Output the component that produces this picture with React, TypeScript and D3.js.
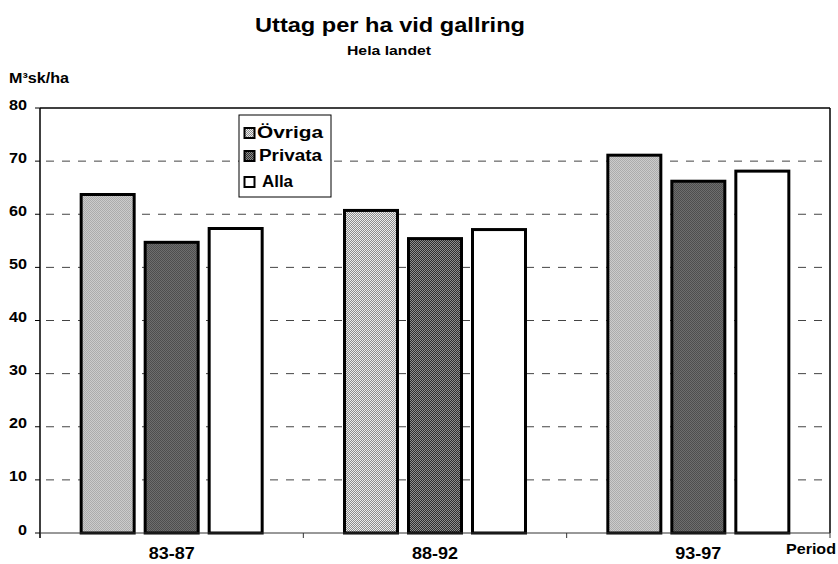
import React from "react";
import * as d3 from "d3";

const periods = ["83-87", "88-92", "93-97"];
const seriesNames = ["Övriga", "Privata", "Alla"];
const ovriga = [64.0, 61.0, 71.4];
const privata = [55.0, 55.7, 66.5];
const alla = [57.6, 57.4, 68.4];
const yTicks = [0, 10, 20, 30, 40, 50, 60, 70, 80];

const W = 838;
const H = 564;
const margin = { left: 40, right: 8, top: 108, bottom: 31 };
const font = "'Liberation Sans', Arial, sans-serif";

// widths of the stretched bold labels
const legendWidths = [66, 63, 31];

export default function App() {
  const x0 = d3
    .scaleBand<string>()
    .domain(periods)
    .range([margin.left, W - margin.right])
    .paddingInner(0)
    .paddingOuter(0);
  const y = d3.scaleLinear().domain([0, 80]).range([H - margin.bottom, margin.top]);

  const groupW = 184;
  const x1 = d3
    .scaleBand<string>()
    .domain(seriesNames)
    .range([0, groupW])
    .paddingInner(8 / 64);

  const values = [ovriga, privata, alla];
  const fills = ["url(#patLight)", "url(#patDark)", "#ffffff"];

  const plotL = margin.left;
  const plotR = W - margin.right;
  const plotT = y(80);
  const plotB = y(0);

  const catEdges = [...periods.map((p) => x0(p) as number), plotR];

  return (
    <svg
      width={W}
      height={H}
      style={{ position: "absolute", left: 0, top: 0, background: "#fff" }}
      fontFamily={font}
    >
      <defs>
        <pattern id="patLight" width="2" height="2" patternUnits="userSpaceOnUse">
          <rect width="2" height="2" fill="#ececec" shapeRendering="crispEdges" />
          <rect width="1" height="1" fill="#8c8c8c" shapeRendering="crispEdges" />
          <rect x="1" y="1" width="1" height="1" fill="#8c8c8c" shapeRendering="crispEdges" />
        </pattern>
        <pattern id="patDark" width="2" height="2" patternUnits="userSpaceOnUse">
          <rect width="2" height="2" fill="#8e8e8e" shapeRendering="crispEdges" />
          <rect width="1" height="1" fill="#2e2e2e" shapeRendering="crispEdges" />
          <rect x="1" y="1" width="1" height="1" fill="#2e2e2e" shapeRendering="crispEdges" />
        </pattern>
      </defs>

      {/* titles */}
      <text
        x={255}
        y={31.5}
        fontSize={20}
        fontWeight="bold"
        textLength={270}
        lengthAdjust="spacingAndGlyphs"
      >
        Uttag per ha vid gallring
      </text>
      <text
        x={347}
        y={55}
        fontSize={13}
        fontWeight="bold"
        textLength={84}
        lengthAdjust="spacingAndGlyphs"
      >
        Hela landet
      </text>
      <text x={9} y={83} fontSize={14} fontWeight="bold" textLength={60} lengthAdjust="spacingAndGlyphs">
        M³sk/ha
      </text>

      {/* gridlines */}
      {yTicks
        .filter((t) => t > 0 && t < 80)
        .map((t) => (
          <line
            key={t}
            x1={plotL}
            x2={plotR}
            y1={y(t)}
            y2={y(t)}
            stroke="#444"
            strokeWidth={1}
            strokeDasharray="8,8"
            strokeDashoffset={-6}
          />
        ))}

      {/* frame */}
      <line x1={plotL} x2={plotR} y1={plotT} y2={plotT} stroke="#000" strokeWidth={1.5} />
      <line x1={plotR} x2={plotR} y1={plotT} y2={plotB} stroke="#000" strokeWidth={1.5} />

      {/* bars */}
      {periods.map((p, i) => {
        const gx = (x0(p) as number) + (x0.bandwidth() - groupW) / 2;
        return (
          <g key={p} transform={`translate(${gx},0)`}>
            {seriesNames.map((s, j) => {
              const v = values[j][i];
              return (
                <rect
                  key={s}
                  x={(x1(s) as number) + 1.5}
                  y={y(v) + 1.5}
                  width={x1.bandwidth() - 3}
                  height={y(0) - y(v) - 1.5}
                  fill={fills[j]}
                  stroke="#000"
                  strokeWidth={3}
                />
              );
            })}
          </g>
        );
      })}

      {/* axes */}
      <line x1={plotL} x2={plotL} y1={plotT} y2={plotB + 5} stroke="#000" strokeWidth={1.5} />
      <line x1={plotL} x2={plotR} y1={plotB} y2={plotB} stroke="#333" strokeWidth={1} />
      {catEdges.map((cx, i) => (
        <line key={i} x1={cx} x2={cx} y1={plotB} y2={plotB + 5} stroke="#333" strokeWidth={1} />
      ))}
      {yTicks.map((t) => (
        <g key={t}>
          <line x1={plotL - 5} x2={plotL} y1={y(t)} y2={y(t)} stroke="#000" strokeWidth={1} />
          <text
            x={27}
            y={y(t) + 1.5}
            textAnchor="end"
            fontSize={14}
            fontWeight="bold"
            textLength={9 * String(t).length}
            lengthAdjust="spacingAndGlyphs"
          >
            {t}
          </text>
        </g>
      ))}
      {periods.map((p) => (
        <text
          key={p}
          x={(x0(p) as number) + x0.bandwidth() / 2}
          y={559}
          textAnchor="middle"
          fontSize={17}
          fontWeight="bold"
          textLength={46}
          lengthAdjust="spacingAndGlyphs"
        >
          {p}
        </text>
      ))}
      <text
        x={836}
        y={553.5}
        textAnchor="end"
        fontSize={14}
        fontWeight="bold"
        textLength={50}
        lengthAdjust="spacingAndGlyphs"
      >
        Period
      </text>

      {/* legend */}
      <g transform="translate(239,115)">
        <rect x={0} y={0} width={92} height={82} fill="#fff" stroke="#000" strokeWidth={1} />
        {seriesNames.map((s, j) => {
          const base = [23, 46, 72][j];
          return (
            <g key={s}>
              <rect
                x={5.5}
                y={base - 10}
                width={10}
                height={10}
                fill={fills[j]}
                stroke="#000"
                strokeWidth={2}
              />
              <text
                x={[18, 20, 23][j]}
                y={base}
                fontSize={16}
                fontWeight="bold"
                textLength={legendWidths[j]}
                lengthAdjust="spacingAndGlyphs"
              >
                {s}
              </text>
            </g>
          );
        })}
      </g>
    </svg>
  );
}
